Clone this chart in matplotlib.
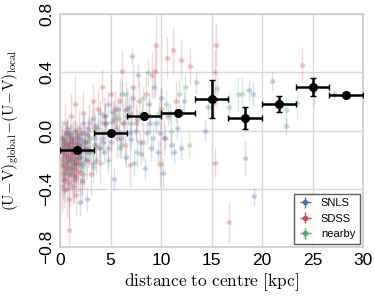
import numpy as np
import matplotlib
matplotlib.use('Agg')
import matplotlib.pyplot as plt

plt.rcParams['mathtext.fontset'] = 'cm'
plt.rcParams['font.family'] = ['Liberation Sans', 'DejaVu Sans']

# SNLS points: x [kpc], y, yerr
snls_x = [0.2, 0.3, 0.4, 0.5, 0.6, 0.7, 0.8, 0.9, 1.0, 1.1, 1.2, 1.3, 1.4, 1.5, 1.6, 1.7, 1.8, 1.95, 2.0, 2.1,
          2.2, 2.3, 2.4, 2.5, 2.7, 2.8, 2.9, 3.0, 3.2, 3.4, 3.6, 3.8, 4.0, 4.2, 4.4, 4.6, 4.8, 5.0, 5.3, 5.5,
          5.7, 5.9, 6.1, 6.3, 6.5, 6.7, 6.9, 7.1, 7.2, 7.3, 7.5, 7.7, 7.9, 8.1, 8.4, 8.6, 8.8, 9.0, 9.3, 9.5,
          9.7, 10.0, 10.2, 10.4, 10.7, 11.0, 11.3, 11.6, 12.0, 12.3, 13.5, 14.4, 14.7, 18.3, 18.35, 18.7, 19.1, 19.2, 21.0, 22.4,
          27.1,
          0.25, 0.45, 0.65, 0.85, 1.05, 1.25, 1.45, 1.65, 1.85, 2.05, 2.25, 2.45, 2.65, 3.3, 3.9, 4.5, 5.1, 5.8, 6.4, 7.0,
          0.35, 0.55, 0.75, 0.95, 1.15, 1.35, 1.55, 1.75, 2.15, 2.55, 3.5, 4.3, 5.2, 6.0, 6.8, 7.6, 8.0, 8.9, 9.9, 10.9]
snls_y = [-0.05, -0.15, -0.41, -0.08, -0.22, 0.02, -0.30, -0.12, -0.02, -0.25, -0.08, -0.38, -0.15, 0.00, -0.20, -0.05, -0.10, -0.49, -0.02, -0.18,
          -0.34, 0.05, -0.07, -0.12, -0.47, 0.02, -0.15, -0.05, 0.08, -0.10, -0.20, 0.02, 0.12, -0.05, -0.15, 0.05, 0.18, -0.08, -0.33, 0.02,
          0.15, -0.12, 0.25, 0.05, -0.18, 0.10, -0.02, 0.51, 0.22, -0.22, 0.00, 0.38, -0.08, 0.12, -0.26, -0.02, 0.18, -0.12, 0.30, 0.05,
          -0.15, 0.22, -0.29, -0.05, 0.10, -0.10, -0.15, 0.02, -0.12, 0.20, 0.33, 0.00, 0.16, 0.07, -0.19, 0.28, 0.25, -0.45, 0.34, 0.03,
          0.25,
          -0.10, -0.28, -0.16, -0.04, -0.20, -0.12, -0.26, -0.08, -0.18, -0.06, -0.24, -0.14, -0.03, -0.22, -0.12, 0.10, 0.06, -0.02, 0.14, -0.06,
          -0.34, -0.02, -0.19, -0.09, -0.13, -0.23, -0.32, -0.14, -0.09, -0.20, 0.04, -0.08, 0.13, -0.05, 0.16, 0.08, -0.16, 0.05, -0.02, 0.12]
snls_yerr = [0.08, 0.10, 0.12, 0.07, 0.09, 0.06, 0.10, 0.08, 0.07, 0.10, 0.06, 0.12, 0.08, 0.07, 0.09, 0.06, 0.08, 0.10, 0.07, 0.08,
             0.10, 0.07, 0.06, 0.08, 0.08, 0.07, 0.09, 0.06, 0.07, 0.08, 0.10, 0.06, 0.08, 0.07, 0.08, 0.06, 0.08, 0.07, 0.08, 0.06,
             0.08, 0.07, 0.09, 0.07, 0.08, 0.06, 0.08, 0.06, 0.08, 0.09, 0.07, 0.08, 0.07, 0.08, 0.08, 0.07, 0.08, 0.09, 0.08, 0.07,
             0.08, 0.07, 0.10, 0.08, 0.07, 0.08, 0.07, 0.08, 0.08, 0.07, 0.07, 0.08, 0.08, 0.07, 0.12, 0.07, 0.08, 0.06, 0.07, 0.06,
             0.03,
             0.07, 0.09, 0.08, 0.06, 0.08, 0.07, 0.09, 0.06, 0.08, 0.07, 0.09, 0.08, 0.06, 0.08, 0.07, 0.08, 0.07, 0.06, 0.08, 0.07,
             0.10, 0.06, 0.08, 0.07, 0.08, 0.09, 0.10, 0.07, 0.07, 0.08, 0.07, 0.08, 0.07, 0.06, 0.08, 0.07, 0.08, 0.07, 0.08, 0.07]

# SDSS points
sdss_x = [0.1, 0.2, 0.3, 0.4, 0.5, 0.6, 0.7, 0.8, 0.9, 0.9, 1.0, 1.1, 1.2, 1.3, 1.4, 1.5, 1.6, 1.7, 1.8, 1.9,
          2.0, 2.2, 2.3, 2.5, 2.7, 2.9, 3.1, 3.3, 3.6, 3.8, 4.0, 4.2, 4.5, 4.8, 5.0, 5.3, 5.6, 5.9, 6.1, 6.4,
          6.6, 6.9, 7.2, 7.5, 7.8, 8.2, 8.5, 8.8, 9.1, 9.47, 9.4, 9.9, 10.0, 10.3, 10.6, 11.2, 11.5, 12.0, 12.9, 15.2,
          15.3, 15.4, 15.3, 16.7, 24.0,
          0.15, 0.25, 0.35, 0.45, 0.55, 0.65, 0.75, 0.85, 0.95, 1.05, 1.15, 1.25, 1.35, 1.45, 1.55, 1.65, 1.75, 1.85, 1.95, 2.1,
          0.2, 0.4, 0.6, 0.8, 1.0, 1.2, 1.4, 1.6, 2.4, 2.8, 3.4, 4.4, 5.4, 6.2, 7.0]
sdss_y = [-0.20, -0.05, -0.30, -0.12, 0.05, -0.25, -0.40, -0.10, -0.68, -0.47, -0.18, 0.10, -0.30, -0.05, -0.22, 0.18, -0.44, -0.12, -0.28, 0.02,
          -0.15, -0.35, 0.12, -0.08, -0.20, 0.05, -0.30, 0.20, -0.10, 0.15, -0.22, 0.30, 0.05, -0.12, 0.25, 0.08, -0.05, 0.20, 0.41, -0.10,
          0.15, -0.24, 0.30, 0.05, 0.20, -0.08, 0.25, 0.10, 0.38, 0.59, 0.41, -0.23, 0.15, -0.05, 0.50, 0.55, 0.20, 0.485, 0.44, 0.19,
          0.40, 0.59, -0.22, -0.63, 0.45,
          -0.14, -0.24, -0.08, -0.33, -0.17, -0.02, -0.21, -0.36, -0.12, -0.27, -0.06, -0.16, -0.31, -0.09, -0.19, -0.04, -0.23, -0.14, -0.29, -0.11,
          -0.38, -0.18, -0.10, -0.26, -0.08, -0.15, -0.34, -0.22, -0.02, -0.12, 0.02, 0.10, 0.15, 0.05, 0.12]
sdss_yerr = [0.15, 0.12, 0.18, 0.10, 0.14, 0.15, 0.20, 0.12, 0.20, 0.18, 0.14, 0.15, 0.16, 0.12, 0.14, 0.20, 0.15, 0.12, 0.14, 0.12,
             0.13, 0.15, 0.15, 0.12, 0.14, 0.13, 0.15, 0.12, 0.13, 0.14, 0.15, 0.12, 0.14, 0.13, 0.13, 0.12, 0.14, 0.16, 0.15, 0.13,
             0.14, 0.15, 0.15, 0.13, 0.14, 0.13, 0.15, 0.12, 0.16, 0.20, 0.18, 0.15, 0.14, 0.12, 0.14, 0.16, 0.14, 0.14, 0.13, 0.10,
             0.15, 0.15, 0.10, 0.14, 0.12,
             0.12, 0.14, 0.10, 0.16, 0.12, 0.11, 0.14, 0.16, 0.12, 0.14, 0.10, 0.13, 0.15, 0.11, 0.13, 0.10, 0.14, 0.12, 0.15, 0.12,
             0.18, 0.13, 0.11, 0.15, 0.12, 0.13, 0.16, 0.14, 0.12, 0.13, 0.14, 0.13, 0.12, 0.14, 0.13]

# nearby points
near_x = [0.3, 0.8, 1.2, 1.8, 2.4, 3.0, 3.5, 4.2, 4.8, 5.5, 6.0, 6.5, 7.0, 7.6, 8.2, 8.7, 9.2, 9.8, 10.5, 11.0,
          11.8, 12.4, 12.8, 15.5, 16.7, 17.6, 18.0, 22.4, 23.5, 25.1,
          0.6, 1.0, 1.5, 2.1, 2.7, 3.3, 4.0, 5.8]
near_y = [-0.25, -0.05, -0.20, -0.10, -0.30, -0.15, -0.05, 0.05, -0.20, 0.10, -0.10, 0.25, 0.05, -0.15, 0.22, 0.40, -0.05, 0.12, 0.18, 0.00,
          0.25, 0.30, -0.10, 0.29, 0.16, 0.25, 0.25, 0.14, 0.19, 0.27,
          -0.12, -0.30, -0.02, -0.22, -0.08, -0.25, -0.12, 0.08]
near_yerr = [0.10, 0.08, 0.10, 0.08, 0.10, 0.08, 0.09, 0.08, 0.10, 0.08, 0.09, 0.10, 0.08, 0.10, 0.08, 0.10, 0.09, 0.08, 0.10, 0.09,
             0.10, 0.08, 0.09, 0.10, 0.10, 0.12, 0.12, 0.10, 0.12, 0.10,
             0.09, 0.10, 0.08, 0.09, 0.08, 0.10, 0.09, 0.08]

# binned means
bin_x = [1.67, 5.0, 8.33, 11.67, 15.0, 18.33, 21.67, 25.0, 28.33]
bin_xerr = [1.67, 1.67, 1.67, 1.67, 1.67, 1.67, 1.67, 1.67, 1.67]
bin_y = [-0.133, -0.016, 0.103, 0.123, 0.217, 0.085, 0.183, 0.302, 0.247]
bin_yerr = [0.015, 0.012, 0.012, 0.015, 0.133, 0.075, 0.055, 0.062, 0.01]

fig = plt.figure(figsize=(3.75, 3.05), dpi=100)
ax = fig.add_axes([0.16, 0.19, 0.808, 0.764])

series = [(snls_x, snls_y, snls_yerr, '#4C72B0', 'SNLS'),
          (sdss_x, sdss_y, sdss_yerr, '#C44E52', 'SDSS'),
          (near_x, near_y, near_yerr, '#55A868', 'nearby')]
for xs, ys, es, c, lab in series:
    ax.errorbar(xs, ys, yerr=es, xerr=0.25, fmt='o', color=c, ms=4, mew=0,
                elinewidth=1, capsize=1.5, alpha=0.22, zorder=2)
    # legend proxy
    ax.errorbar([], [], yerr=[], xerr=[], fmt='o', color=c, ms=4, mew=0,
                elinewidth=1, capsize=0, label=lab)

ax.errorbar(bin_x, bin_y, xerr=bin_xerr, yerr=bin_yerr, fmt='o', color='black',
            ms=5.5, elinewidth=1.8, capsize=2.5, capthick=1, zorder=5)

ax.set_xlim(0, 30)
ax.set_ylim(-0.8, 0.8)
ax.set_xticks([0, 5, 10, 15, 20, 25, 30])
ax.set_yticks([-0.8, -0.4, 0.0, 0.4, 0.8])
ax.set_yticklabels(['−0.8', '−0.4', '0.0', '0.4', '0.8'], rotation=90, va='center')
ax.tick_params(length=0, labelsize=12.5, pad=4)
ax.grid(True, color='#d8d8d8', lw=1)
ax.set_axisbelow(True)
for s in ax.spines.values():
    s.set_color('#cccccc')
    s.set_linewidth(1.2)

ax.set_xlabel(r'$\mathrm{distance\ to\ centre\ [kpc]}$', fontsize=12.5, labelpad=3)
ax.set_ylabel(r'$\mathrm{(U\!-\!V)_{global}\!-\!(U\!-\!V)_{local}}$', fontsize=11)
ax.yaxis.set_label_coords(-0.13, 0.5)

leg = ax.legend(loc='lower right', fontsize=8, frameon=True, fancybox=False,
                handlelength=1.2, borderaxespad=0.3, handletextpad=0.8)
leg.get_frame().set_edgecolor('#333333')
leg.get_frame().set_linewidth(1.0)

fig.savefig('out.png', dpi=100)
